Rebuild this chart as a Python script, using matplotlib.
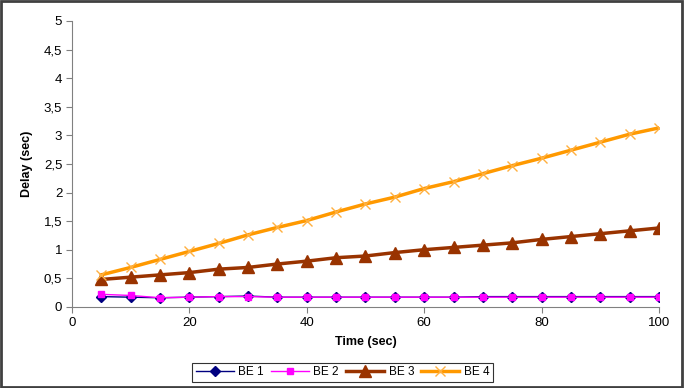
import matplotlib
matplotlib.use("Agg")
import matplotlib.pyplot as plt
from matplotlib.patches import Rectangle
from matplotlib.ticker import FuncFormatter

plt.rcParams['font.family'] = ['Liberation Sans', 'DejaVu Sans']

time = [5, 10, 15, 20, 25, 30, 35, 40, 45, 50, 55, 60, 65, 70, 75, 80, 85, 90, 95, 100]
be1 = [0.18, 0.17, 0.16, 0.17, 0.18, 0.19, 0.17, 0.17, 0.17, 0.17,
       0.17, 0.17, 0.17, 0.18, 0.18, 0.18, 0.18, 0.18, 0.18, 0.18]
be2 = [0.22, 0.20, 0.16, 0.17, 0.18, 0.18, 0.17, 0.17, 0.17, 0.17,
       0.17, 0.17, 0.17, 0.17, 0.17, 0.17, 0.17, 0.17, 0.17, 0.17]
be3 = [0.48, 0.52, 0.56, 0.60, 0.66, 0.69, 0.75, 0.80, 0.86, 0.89,
       0.95, 1.00, 1.04, 1.08, 1.12, 1.18, 1.23, 1.28, 1.33, 1.38]
be4 = [0.56, 0.69, 0.83, 0.97, 1.11, 1.26, 1.39, 1.51, 1.66, 1.80,
       1.92, 2.07, 2.19, 2.33, 2.47, 2.60, 2.74, 2.88, 3.02, 3.13]
labels = ['BE 1', 'BE 2', 'BE 3', 'BE 4']

fig = plt.figure(figsize=(6.85, 3.88), dpi=100)
ax = fig.add_axes([0.105, 0.209, 0.857, 0.737])

ax.plot(time, be1, color='#000080', lw=1.0, marker='D', ms=5, mfc='#000080', mec='#000080', label=labels[0], zorder=3)
ax.plot(time, be2, color='#FF00FF', lw=1.0, marker='s', ms=5, mfc='#FF00FF', mec='#FF00FF', label=labels[1], zorder=4)
ax.plot(time, be3, color='#993300', lw=2.5, marker='^', ms=8, mfc='#993300', mec='#993300', label=labels[2], zorder=3)
ax.plot(time, be4, color='#FF9900', lw=2.5, marker='x', ms=7, mew=1.0, mec='#FFB040', label=labels[3], zorder=3)

ax.set_xlim(0, 100)
ax.set_ylim(0, 5)
ax.set_xticks(range(0, 101, 20))
ax.set_yticks([i * 0.5 for i in range(11)])
fmt = FuncFormatter(lambda v, p: ('%g' % v).replace('.', ','))
ax.yaxis.set_major_formatter(fmt)
ax.tick_params(axis='both', direction='out', length=4, width=0.8, color='#808080', labelsize=9.5, labelcolor='black', pad=3)

for s in ['top', 'right']:
    ax.spines[s].set_visible(False)
for s in ['left', 'bottom']:
    ax.spines[s].set_color('#808080')
    ax.spines[s].set_linewidth(0.8)

ax.set_xlabel('Time (sec)', fontsize=9, fontweight='bold', labelpad=5)
ax.set_ylabel('Delay (sec)', fontsize=9, fontweight='bold', labelpad=8)

leg = fig.legend(loc='center', bbox_to_anchor=(0.5, 0.04), ncol=4, fontsize=8.5,
                 frameon=True, fancybox=False, edgecolor='black', handlelength=3.2,
                 columnspacing=0.6, handletextpad=0.4, borderpad=0.3)
leg.get_frame().set_linewidth(0.8)

fig.patches.append(Rectangle((0.001, 0.003), 0.995, 0.995, transform=fig.transFigure,
                             fill=False, edgecolor='#404040', lw=2))

fig.savefig('out.png', dpi=100)
